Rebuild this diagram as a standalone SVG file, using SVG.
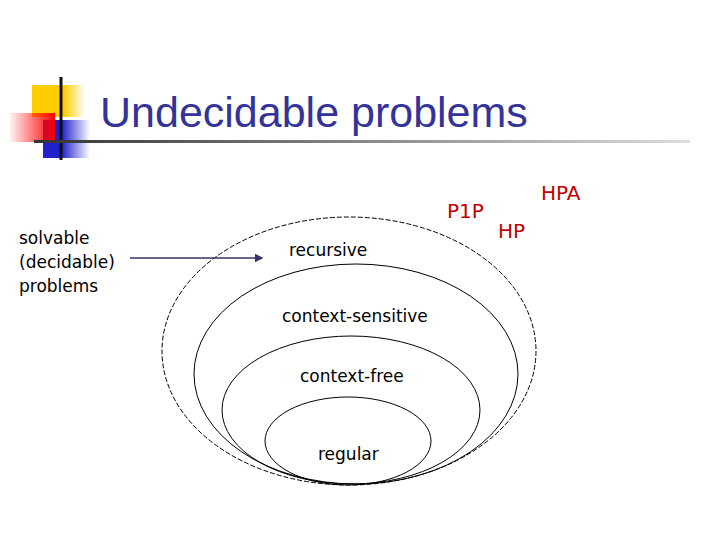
<svg xmlns="http://www.w3.org/2000/svg" width="720" height="540" viewBox="0 0 720 540">
<defs>
<linearGradient id="gy" x1="0" x2="1" y1="0" y2="0"><stop offset="0" stop-color="#ffcc00"/><stop offset="0.6" stop-color="#ffcc00"/><stop offset="1" stop-color="#ffcc00" stop-opacity="0"/></linearGradient>
<linearGradient id="gr" x1="0" x2="1" y1="0" y2="0"><stop offset="0" stop-color="#ff0000" stop-opacity="0.05"/><stop offset="1" stop-color="#ff0000"/></linearGradient>
<linearGradient id="gb" x1="0" x2="1" y1="0" y2="0"><stop offset="0" stop-color="#2222cc"/><stop offset="0.4" stop-color="#2222cc"/><stop offset="1" stop-color="#2222cc" stop-opacity="0"/></linearGradient>
<linearGradient id="gl" x1="0" x2="1" y1="0" y2="0"><stop offset="0" stop-color="#333"/><stop offset="1" stop-color="#ddd"/></linearGradient>
<marker id="ah" markerWidth="6" markerHeight="6" refX="5" refY="3" orient="auto"><path d="M0,0 L6,3 L0,6 z" fill="#333366"/></marker>
</defs>
<style>
.t{font-family:"DejaVu Sans",Verdana,sans-serif;font-size:17px;fill:#000}
.r{font-family:"DejaVu Sans",sans-serif;font-size:20px;fill:#c00000}
.e{fill:none;stroke:#000;stroke-width:1}
</style>
<g id="logo">
<rect x="32" y="85" width="53" height="32" fill="url(#gy)"/>
<rect x="43" y="120" width="47" height="38" fill="url(#gb)"/>
<rect x="10" y="113" width="45" height="29" fill="url(#gr)"/>
<line x1="61" y1="77" x2="61" y2="160" stroke="#111" stroke-width="3"/>
<rect x="34" y="140" width="656" height="3" fill="url(#gl)"/>
</g>
<text x="100" y="127" font-family="Liberation Sans,Arial,sans-serif" font-size="43" fill="#333399">Undecidable problems</text>
<g id="recursive"><ellipse class="e" cx="349" cy="351" rx="187" ry="134" stroke-dasharray="5,2"/><text class="t" x="289" y="256">recursive</text></g>
<g id="cs"><ellipse class="e" cx="356" cy="374" rx="162" ry="110"/><text class="t" x="282" y="322">context-sensitive</text></g>
<g id="cf"><ellipse class="e" cx="351" cy="410" rx="129" ry="74"/><text class="t" x="300" y="382">context-free</text></g>
<g id="regular"><ellipse class="e" cx="348" cy="441" rx="83" ry="44"/><text class="t" x="318" y="460">regular</text></g>
<g id="solvable"><text class="t" x="19" y="244">solvable</text><text class="t" x="19" y="268">(decidable)</text><text class="t" x="19" y="292">problems</text></g>
<g id="undec"><text class="r" x="447" y="218">P1P</text><text class="r" x="498" y="238">HP</text><text class="r" x="541" y="200">HPA</text></g>
<g id="connectors"><line x1="130" y1="258" x2="262" y2="258" stroke="#333366" stroke-width="1.5" marker-end="url(#ah)"/></g>
</svg>
